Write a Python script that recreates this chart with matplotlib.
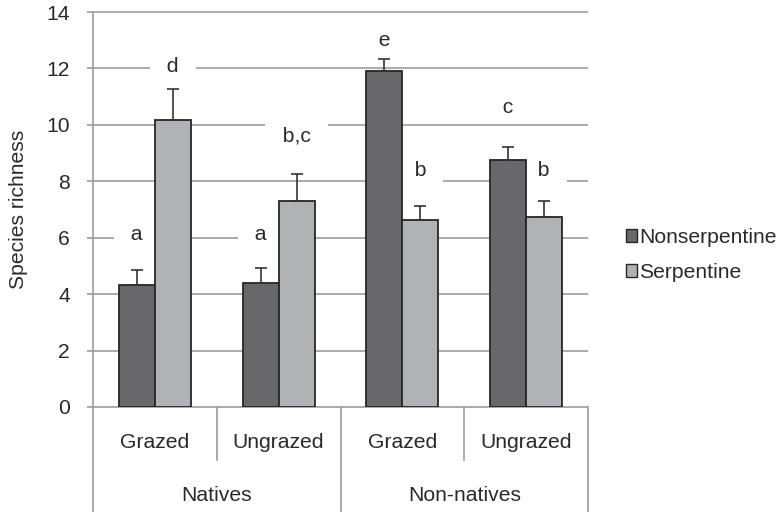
import matplotlib.pyplot as plt
import numpy as np
from matplotlib.patches import Patch

plt.rcParams['font.family'] = ['Liberation Sans', 'DejaVu Sans']

groups = ['Natives', 'Non-natives']
treatments = ['Grazed', 'Ungrazed', 'Grazed', 'Ungrazed']
nonserp = [4.33, 4.40, 11.92, 8.76]
nonserp_err = [0.53, 0.53, 0.42, 0.46]
serp = [10.18, 7.31, 6.63, 6.74]
serp_err = [1.10, 0.95, 0.50, 0.57]
letters_non = ['a', 'a', 'e', 'c']
letters_serp = ['d', 'b,c', 'b', 'b']
letters_non_y = [6.1, 6.1, 13.0, 10.6]
letters_serp_y = [12.07, 9.6, 8.4, 8.4]

dark = '#68686a'
light = '#b1b2b5'
grid_c = '#9c9c9c'
txt_c = '#2a2a2a'
fs = 15.2

W, H = 778, 512
fig = plt.figure(figsize=(W / 100, H / 100), dpi=100)
ax = fig.add_axes([93 / W, (H - 407) / H, (588 - 93) / W, (407 - 12) / H])

x = np.arange(len(treatments))
bw = 0.29
err_kw = dict(ecolor='#333333', elinewidth=1.2, capsize=4.5, capthick=1.2)
ax.bar(x - bw / 2, nonserp, bw, color=dark, edgecolor='#262626', linewidth=1.3,
       yerr=[np.zeros(4), nonserp_err], error_kw=err_kw, zorder=2)
ax.bar(x + bw / 2, serp, bw, color=light, edgecolor='#262626', linewidth=1.3,
       yerr=[np.zeros(4), serp_err], error_kw=err_kw, zorder=2)

# significance letters, white boxes break the gridlines (kept under the bars)
box = dict(facecolor='white', edgecolor='none', pad=4)
for i in range(4):
    ax.text(x[i] - bw / 2, letters_non_y[i], '  ' + letters_non[i] + '  ', ha='center',
            va='center', fontsize=fs, color=txt_c, bbox=box, zorder=1)
    ax.text(x[i] + bw / 2, letters_serp_y[i], '  ' + letters_serp[i] + '  ', ha='center',
            va='center', fontsize=fs, color=txt_c, bbox=box, zorder=1)

yt = np.arange(0, 15, 2)
ax.hlines(yt, -0.5, 3.5, color=grid_c, linewidth=1.2, zorder=0.5, clip_on=False)
ax.set_xlim(-0.5, 3.5)
ax.set_ylim(0, 14)
ax.set_yticks(yt)
ax.tick_params(axis='y', direction='out', length=4.5, width=1.2, color=grid_c,
               labelsize=fs, labelcolor=txt_c, pad=12)
ax.set_xticks([])
for s in ['top', 'right', 'bottom', 'left']:
    ax.spines[s].set_visible(False)
ax.set_ylabel('Species richness', fontsize=fs, color=txt_c, labelpad=13)

# two-level category axis below the plot
tr = ax.get_xaxis_transform()
lk = dict(color=grid_c, linewidth=1.2, transform=tr, clip_on=False)
ax.plot([-0.5, -0.5], [1, -0.3], **lk)
ax.plot([3.5, 3.5], [0, -0.3], **lk)
ax.plot([1.5, 1.5], [0, -0.3], **lk)
ax.plot([0.5, 0.5], [0, -0.134], **lk)
ax.plot([2.5, 2.5], [0, -0.134], **lk)
for i, t in enumerate(treatments):
    ax.text(x[i], -0.089, t, transform=tr, ha='center', va='center',
            fontsize=fs, color=txt_c)
for j, g in enumerate(groups):
    ax.text(0.5 + 2 * j, -0.223, g, transform=tr, ha='center', va='center',
            fontsize=fs, color=txt_c)

handles = [Patch(facecolor=dark, edgecolor='#262626', linewidth=1.0),
           Patch(facecolor=light, edgecolor='#262626', linewidth=1.0)]
fig.legend(handles, ['Nonserpentine', 'Serpentine'], loc='center left',
           bbox_to_anchor=(626 / W, 1 - 255 / H), frameon=False, fontsize=fs,
           handlelength=0.52, handleheight=0.52, handletextpad=0.1,
           labelspacing=0.75, labelcolor=txt_c, borderpad=0, borderaxespad=0)

fig.savefig('out.png', dpi=100)
